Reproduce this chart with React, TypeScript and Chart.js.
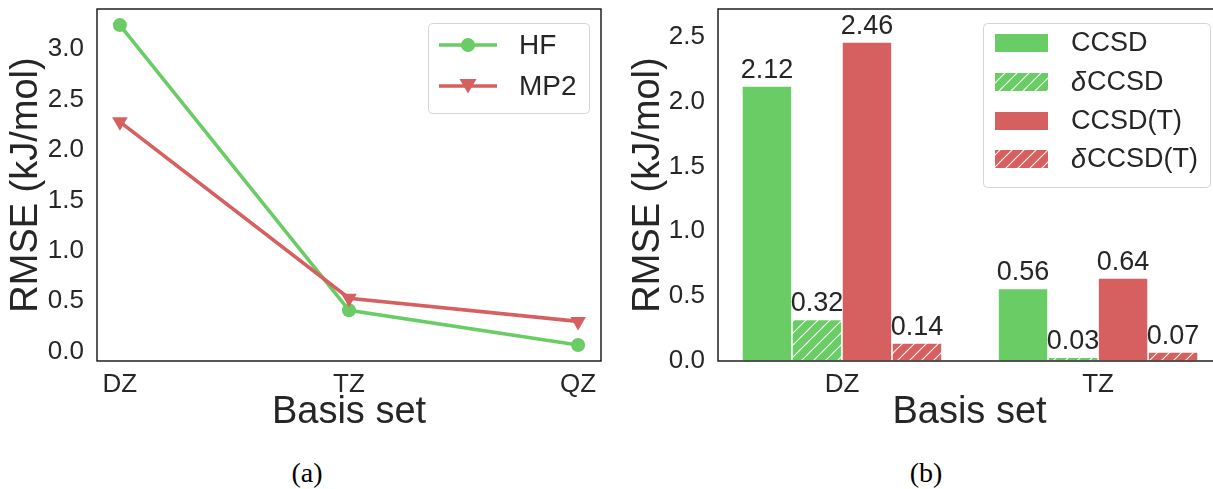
import React, { useEffect, useRef } from 'react';
import { Chart, registerables } from 'chart.js';

Chart.register(...registerables);

// ---------- data: panel (a) ----------
const basisSetsA = ['DZ', 'TZ', 'QZ'];
const hfValues = [3.24, 0.41, 0.066];
const mp2Values = [2.28, 0.53, 0.3];
const yTicksA = [0, 0.5, 1.0, 1.5, 2.0, 2.5, 3.0];

// ---------- data: panel (b) ----------
const basisSetsB = ['DZ', 'TZ'];
const ccsdValues = [2.12, 0.56];
const deltaCcsdValues = [0.32, 0.03];
const ccsdTValues = [2.46, 0.64];
const deltaCcsdTValues = [0.14, 0.07];
const yTicksB = [0, 0.5, 1.0, 1.5, 2.0, 2.5];

const seriesLabelsB = ['CCSD', 'δCCSD', 'CCSD(T)', 'δCCSD(T)'];

const GREEN = '#6acc64';
const RED = '#d65f5f';
const TEXT = '#262626';
const FONT = '"Liberation Sans", Arial, Helvetica, sans-serif';

function hatchPattern(color: string): CanvasPattern | string {
  const s = 12;
  const c = document.createElement('canvas');
  c.width = s;
  c.height = s;
  const g = c.getContext('2d');
  if (!g) return color;
  g.fillStyle = color;
  g.fillRect(0, 0, s, s);
  g.strokeStyle = 'rgba(255,255,255,0.95)';
  g.lineWidth = 1.2;
  g.beginPath();
  g.moveTo(0, s);
  g.lineTo(s, 0);
  g.moveTo(-s / 2, s / 2);
  g.lineTo(s / 2, -s / 2);
  g.moveTo(s / 2, s * 1.5);
  g.lineTo(s * 1.5, s / 2);
  g.stroke();
  return g.createPattern(c, 'repeat') || color;
}

function fixAxis(size: number, horizontal: boolean) {
  return (s: any) => {
    if (horizontal) s.height = size;
    else s.width = size;
    s.paddingTop = 0;
    s.paddingBottom = 0;
    s.paddingLeft = 0;
    s.paddingRight = 0;
  };
}

const framePlugin = {
  id: 'frame',
  afterDatasetsDraw(chart: any) {
    const { ctx, chartArea } = chart;
    ctx.save();
    ctx.strokeStyle = '#111';
    ctx.lineWidth = 1.4;
    ctx.strokeRect(chartArea.left, chartArea.top, chartArea.right - chartArea.left, chartArea.bottom - chartArea.top);
    ctx.restore();
  },
};

function roundRect(ctx: CanvasRenderingContext2D, x: number, y: number, w: number, h: number, r: number) {
  ctx.beginPath();
  ctx.moveTo(x + r, y);
  ctx.lineTo(x + w - r, y);
  ctx.quadraticCurveTo(x + w, y, x + w, y + r);
  ctx.lineTo(x + w, y + h - r);
  ctx.quadraticCurveTo(x + w, y + h, x + w - r, y + h);
  ctx.lineTo(x + r, y + h);
  ctx.quadraticCurveTo(x, y + h, x, y + h - r);
  ctx.lineTo(x, y + r);
  ctx.quadraticCurveTo(x, y, x + r, y);
  ctx.closePath();
}

// draws a label; a leading δ is set in italic like a math symbol
function drawLabel(ctx: CanvasRenderingContext2D, text: string, x: number, y: number, size: number) {
  let cx = x;
  let rest = text;
  if (text.startsWith('δ')) {
    ctx.font = `italic ${size}px ${FONT}`;
    ctx.fillText('δ', cx, y);
    cx += ctx.measureText('δ').width + 1;
    rest = text.slice(1);
  }
  ctx.font = `${size}px ${FONT}`;
  ctx.fillText(rest, cx, y);
}

const legendAPlugin = {
  id: 'legendA',
  afterDraw(chart: any) {
    const ctx: CanvasRenderingContext2D = chart.ctx;
    ctx.save();
    roundRect(ctx, 428.5, 23.5, 161, 90, 4);
    ctx.fillStyle = 'rgba(255,255,255,0.85)';
    ctx.fill();
    ctx.strokeStyle = '#d5d5d5';
    ctx.lineWidth = 1;
    ctx.stroke();
    const rows = [
      { label: chart.data.datasets[0].label, color: GREEN, y: 45, marker: 'circle' },
      { label: chart.data.datasets[1].label, color: RED, y: 86, marker: 'tri' },
    ];
    rows.forEach((r) => {
      ctx.strokeStyle = r.color;
      ctx.fillStyle = r.color;
      ctx.lineWidth = 3.6;
      ctx.beginPath();
      ctx.moveTo(439, r.y);
      ctx.lineTo(497, r.y);
      ctx.stroke();
      ctx.beginPath();
      if (r.marker === 'circle') {
        ctx.arc(468, r.y, 7, 0, Math.PI * 2);
      } else {
        ctx.moveTo(468, r.y + 7.5);
        ctx.lineTo(459.5, r.y - 7);
        ctx.lineTo(476.5, r.y - 7);
        ctx.closePath();
      }
      ctx.fill();
      ctx.fillStyle = TEXT;
      ctx.textAlign = 'left';
      ctx.textBaseline = 'middle';
      drawLabel(ctx, r.label, 519, r.y + 1, 28);
    });
    ctx.restore();
  },
};

const legendBPlugin = {
  id: 'legendB',
  afterDraw(chart: any) {
    const ctx: CanvasRenderingContext2D = chart.ctx;
    ctx.save();
    roundRect(ctx, 361.5, 23.5, 227, 164, 4);
    ctx.fillStyle = 'rgba(255,255,255,0.85)';
    ctx.fill();
    ctx.strokeStyle = '#d5d5d5';
    ctx.lineWidth = 1;
    ctx.stroke();
    const ys = [43, 82, 121, 159];
    chart.data.datasets.forEach((ds: any, i: number) => {
      ctx.fillStyle = ds.backgroundColor;
      ctx.fillRect(373, ys[i] - 9, 53, 18);
      ctx.fillStyle = TEXT;
      ctx.textAlign = 'left';
      ctx.textBaseline = 'middle';
      drawLabel(ctx, ds.label, 449, ys[i] + 1, 27);
    });
    ctx.restore();
  },
};

const barLabelPlugin = {
  id: 'barLabels',
  afterDatasetsDraw(chart: any) {
    const ctx: CanvasRenderingContext2D = chart.ctx;
    ctx.save();
    ctx.font = `27px ${FONT}`;
    ctx.fillStyle = TEXT;
    ctx.textAlign = 'center';
    ctx.textBaseline = 'alphabetic';
    chart.data.datasets.forEach((ds: any, di: number) => {
      const meta = chart.getDatasetMeta(di);
      meta.data.forEach((el: any, i: number) => {
        const v = ds.data[i].y as number;
        ctx.fillText(v.toFixed(2), el.x, el.y - 8);
      });
    });
    ctx.restore();
  },
};

const tickFont = { family: FONT, size: 26 };
const titleFont = { family: FONT, size: 38 };

export default function App() {
  const leftRef = useRef<HTMLCanvasElement | null>(null);
  const rightRef = useRef<HTMLCanvasElement | null>(null);

  useEffect(() => {
    if (!leftRef.current || !rightRef.current) return;

    const left = new Chart(leftRef.current, {
      type: 'line',
      data: {
        datasets: [
          {
            label: 'HF',
            data: hfValues.map((y, i) => ({ x: i, y })),
            borderColor: GREEN,
            backgroundColor: GREEN,
            borderWidth: 3.6,
            pointStyle: 'circle',
            pointRadius: 7,
            pointBorderWidth: 0,
            tension: 0,
            order: 2,
          },
          {
            label: 'MP2',
            data: mp2Values.map((y, i) => ({ x: i, y })),
            borderColor: RED,
            backgroundColor: RED,
            borderWidth: 3.6,
            pointStyle: 'triangle',
            pointRotation: 180,
            pointRadius: 9,
            pointBorderWidth: 0,
            tension: 0,
            order: 1,
          },
        ],
      },
      options: {
        responsive: false,
        animation: false,
        layout: { padding: { top: 9, right: 7, left: 0, bottom: 0 } },
        plugins: { legend: { display: false }, tooltip: { enabled: false } },
        scales: {
          x: {
            type: 'linear',
            min: -0.1,
            max: 2.1,
            grid: { display: false },
            border: { display: false },
            afterBuildTicks: (s: any) => {
              s.ticks = basisSetsA.map((_, i) => ({ value: i }));
            },
            afterFit: fixAxis(79, true),
            ticks: {
              callback: (v: any) => basisSetsA[v as number],
              font: tickFont,
              color: TEXT,
              padding: 0,
              maxRotation: 0,
              autoSkip: false,
            },
            title: { display: true, text: 'Basis set', font: titleFont, color: TEXT, padding: { top: 0, bottom: 5 } },
          },
          y: {
            type: 'linear',
            min: -0.093,
            max: 3.4,
            grid: { display: false },
            border: { display: false },
            afterBuildTicks: (s: any) => {
              s.ticks = yTicksA.map((v) => ({ value: v }));
            },
            afterFit: fixAxis(97, false),
            ticks: {
              callback: (v: any) => Number(v).toFixed(1),
              font: tickFont,
              color: TEXT,
              padding: 5,
            },
            title: { display: true, text: 'RMSE (kJ/mol)', font: titleFont, color: TEXT, padding: { top: 4, bottom: 0 } },
          },
        },
      },
      plugins: [framePlugin, legendAPlugin],
    } as any);

    const mk = (vals: number[]) => vals.map((y, i) => ({ x: i, y }));
    const right = new Chart(rightRef.current, {
      type: 'bar',
      data: {
        datasets: [
          { label: seriesLabelsB[0], data: mk(ccsdValues), backgroundColor: GREEN },
          { label: seriesLabelsB[1], data: mk(deltaCcsdValues), backgroundColor: hatchPattern(GREEN) },
          { label: seriesLabelsB[2], data: mk(ccsdTValues), backgroundColor: RED },
          { label: seriesLabelsB[3], data: mk(deltaCcsdTValues), backgroundColor: hatchPattern(RED) },
        ].map((d) => ({
          ...d,
          borderColor: '#ffffff',
          borderWidth: 0.8,
          borderSkipped: false,
          categoryPercentage: 200 / 256,
          barPercentage: 1.0,
        })),
      },
      options: {
        responsive: false,
        animation: false,
        layout: { padding: { top: 9, right: 11, left: 0, bottom: 0 } },
        plugins: { legend: { display: false }, tooltip: { enabled: false } },
        scales: {
          x: {
            type: 'linear',
            offset: false,
            min: -0.484,
            max: 1.48,
            grid: { display: false },
            border: { display: false },
            afterBuildTicks: (s: any) => {
              s.ticks = basisSetsB.map((_, i) => ({ value: i }));
            },
            afterFit: fixAxis(79, true),
            ticks: {
              callback: (v: any) => basisSetsB[v as number],
              font: tickFont,
              color: TEXT,
              padding: 0,
              maxRotation: 0,
              autoSkip: false,
            },
            title: { display: true, text: 'Basis set', font: titleFont, color: TEXT, padding: { top: 0, bottom: 5 } },
          },
          y: {
            type: 'linear',
            min: 0,
            max: 2.714,
            grid: { display: false },
            border: { display: false },
            afterBuildTicks: (s: any) => {
              s.ticks = yTicksB.map((v) => ({ value: v }));
            },
            afterFit: fixAxis(96, false),
            ticks: {
              callback: (v: any) => Number(v).toFixed(1),
              font: tickFont,
              color: TEXT,
              padding: 5,
            },
            title: { display: true, text: 'RMSE (kJ/mol)', font: titleFont, color: TEXT, padding: { top: 4, bottom: 0 } },
          },
        },
      },
      plugins: [framePlugin, barLabelPlugin, legendBPlugin],
    } as any);

    return () => {
      left.destroy();
      right.destroy();
    };
  }, []);

  const caption: React.CSSProperties = {
    position: 'absolute',
    top: 459,
    textAlign: 'center',
    fontFamily: '"Liberation Serif", "DejaVu Serif", serif',
    fontSize: 28,
    lineHeight: '28px',
    color: '#000',
  };

  return (
    <div
      style={{
        position: 'fixed',
        left: 0,
        top: 0,
        width: 1213,
        height: 489,
        overflow: 'hidden',
        background: '#ffffff',
      }}
    >
      <canvas ref={leftRef} width={610} height={440} style={{ position: 'absolute', left: 0, top: 0 }} />
      <canvas ref={rightRef} width={610} height={440} style={{ position: 'absolute', left: 622, top: 0 }} />
      <div style={{ ...caption, left: 0, width: 614 }}>(a)</div>
      <div style={{ ...caption, left: 826, width: 200 }}>(b)</div>
    </div>
  );
}
